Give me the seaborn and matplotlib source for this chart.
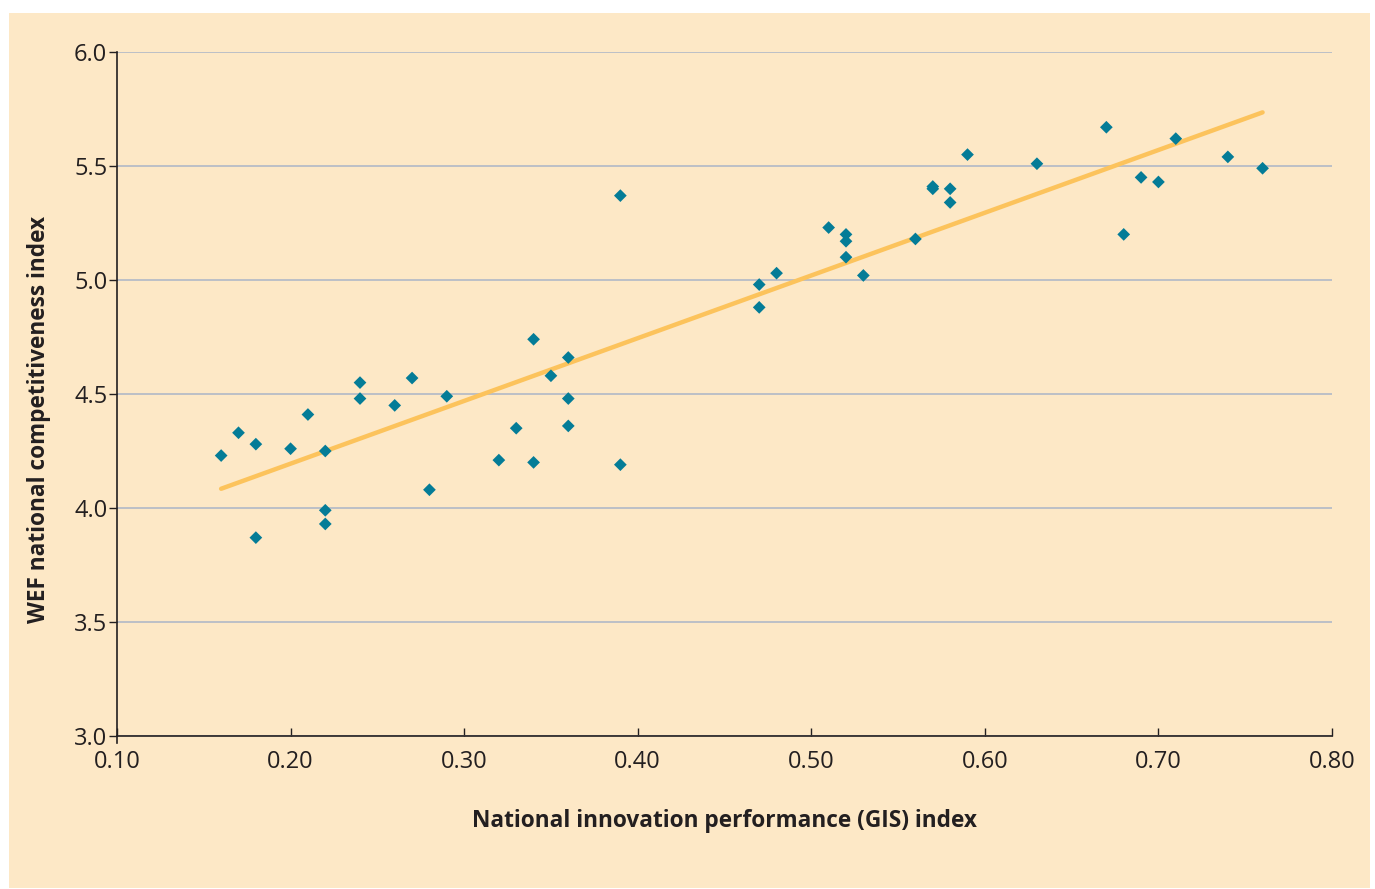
import matplotlib

matplotlib.use("Agg")

import matplotlib.pyplot as plt
import numpy as np
import pandas as pd
import seaborn as sns
from matplotlib.patches import Rectangle

# GIS index vs WEF competitiveness index
gis = [0.16, 0.17, 0.18, 0.18, 0.20, 0.21, 0.22, 0.22, 0.22, 0.24, 0.24, 0.26,
       0.27, 0.28, 0.29, 0.32, 0.33, 0.34, 0.34, 0.35, 0.36, 0.36, 0.36, 0.39,
       0.39, 0.47, 0.47, 0.48, 0.51, 0.52, 0.52, 0.52, 0.53, 0.56, 0.57, 0.57,
       0.58, 0.58, 0.59, 0.63, 0.67, 0.68, 0.69, 0.70, 0.71, 0.74, 0.76]
wef = [4.23, 4.33, 4.28, 3.87, 4.26, 4.41, 4.25, 3.99, 3.93, 4.55, 4.48, 4.45,
       4.57, 4.08, 4.49, 4.21, 4.35, 4.74, 4.20, 4.58, 4.66, 4.48, 4.36, 5.37,
       4.19, 4.98, 4.88, 5.03, 5.23, 5.20, 5.17, 5.10, 5.02, 5.18, 5.41, 5.40,
       5.40, 5.34, 5.55, 5.51, 5.67, 5.20, 5.45, 5.43, 5.62, 5.54, 5.49]

x_ticks = [0.10, 0.20, 0.30, 0.40, 0.50, 0.60, 0.70, 0.80]
y_ticks = [3.0, 3.5, 4.0, 4.5, 5.0, 5.5, 6.0]

BEIGE = "#fde8c6"
TEAL = "#047c97"
GOLD = "#fcc35c"
INK = "#231f20"

df = pd.DataFrame({"gis": gis, "wef": wef})

sns.set_theme(style="white")
plt.rcParams["font.family"] = ["Open Sans", "DejaVu Sans"]

fig = plt.figure(figsize=(13.75, 8.89), dpi=100)
fig.patch.set_facecolor("white")
fig.patches.append(Rectangle((9 / 1375, 1 / 889), 1361 / 1375, 875 / 889,
                             transform=fig.transFigure, facecolor=BEIGE,
                             edgecolor="none", zorder=-10))
ax = fig.add_axes([117 / 1375, 1 - 736 / 889, 1215 / 1375, 684 / 889])
ax.set_facecolor(BEIGE)

sns.regplot(data=df, x="gis", y="wef", ax=ax, ci=None, truncate=True,
            scatter=False, line_kws={"color": GOLD, "lw": 3.2, "zorder": 2})
sns.scatterplot(data=df, x="gis", y="wef", ax=ax, marker="D", s=42,
                color=TEAL, edgecolor="none", zorder=3)

ax.set_xlim(0.10, 0.80)
ax.set_ylim(3.0, 6.0)
ax.set_xticks(x_ticks)
ax.set_xticklabels([f"{v:.2f}" for v in x_ticks])
ax.set_yticks(y_ticks)
ax.set_yticklabels([f"{v:.1f}" for v in y_ticks])
ax.yaxis.grid(True, color="#aab4c6", lw=1.1)
ax.xaxis.grid(False)
ax.set_axisbelow(True)

for side in ["top", "right"]:
    ax.spines[side].set_visible(False)
for side in ["left", "bottom"]:
    ax.spines[side].set_color(INK)
    ax.spines[side].set_linewidth(1.2)
# left axis line runs a little below the x axis, as in the original
ax.spines["left"].set_bounds(2.97, 6.0)

ax.tick_params(axis="y", direction="out", length=6, width=1, color=INK,
               labelsize=17, labelcolor=INK, pad=1, left=True)
ax.tick_params(axis="x", direction="in", length=6, width=1, color=INK,
               labelsize=17, labelcolor=INK, pad=10, bottom=True)

ax.set_xlabel("National innovation performance (GIS) index", fontsize=16.3,
              fontweight="bold", color=INK, labelpad=25)
ax.set_ylabel("WEF national competitiveness index", fontsize=16.3,
              fontweight="bold", color=INK)
ax.yaxis.set_label_coords(-0.054, 1 - (419 - 52) / 684)

fig.savefig("out.png", dpi=100, facecolor=fig.get_facecolor())
